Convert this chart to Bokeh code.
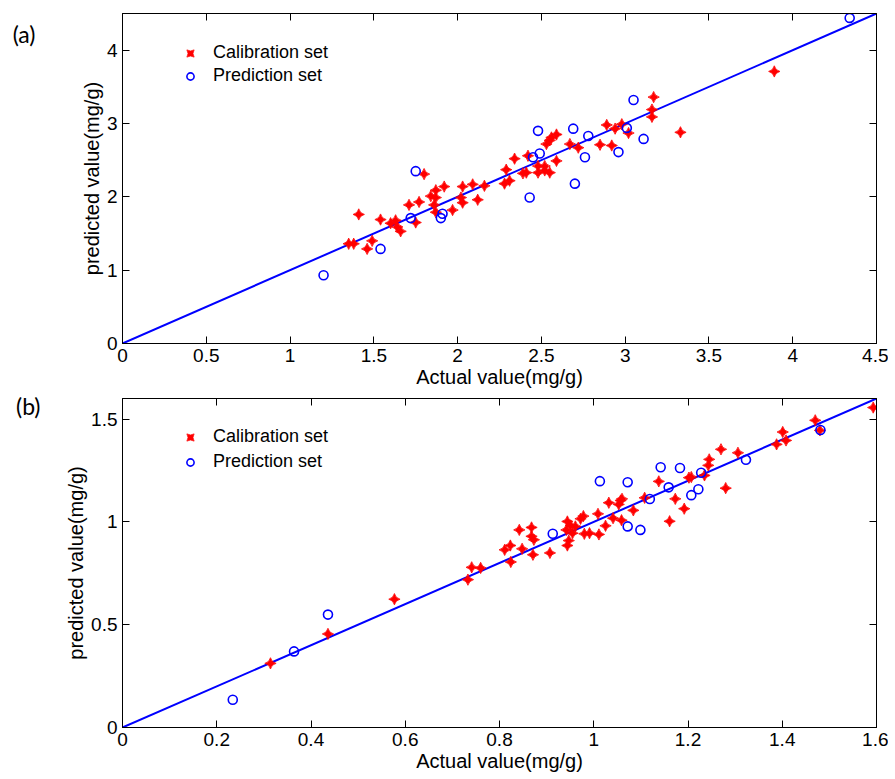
import numpy as np
from bokeh.plotting import figure
from bokeh.models import (Range1d, FixedTicker, NumeralTickFormatter, LinearAxis,
                          Legend, LegendItem)
from bokeh.layouts import column
from bokeh.embed import file_html
from bokeh.resources import INLINE

# ---------------- Data: panel (a) ----------------
CAL_A_X = [1.35, 1.38, 1.41, 1.46, 1.49, 1.54, 1.60, 1.63, 1.64, 1.66, 1.71, 1.75, 1.77, 1.80,
           1.84, 1.87, 1.87, 1.86, 1.87, 1.92, 1.97, 2.03, 2.02, 2.03, 2.09, 2.12, 2.16, 2.28,
           2.31, 2.29, 2.34, 2.39, 2.41, 2.42, 2.48, 2.48, 2.52, 2.52, 2.55, 2.59, 2.53, 2.55,
           2.56, 2.59, 2.67, 2.72, 2.85, 2.89, 2.92, 2.94, 2.98, 3.02, 3.16, 3.16, 3.17, 3.33, 3.89]
CAL_A_Y = [1.36, 1.36, 1.76, 1.29, 1.40, 1.69, 1.64, 1.68, 1.59, 1.53, 1.89, 1.65, 1.93, 2.31,
           2.01, 2.09, 1.99, 1.89, 1.79, 2.14, 1.82, 2.14, 1.99, 1.92, 2.17, 1.96, 2.15, 2.18,
           2.22, 2.37, 2.52, 2.32, 2.33, 2.56, 2.42, 2.33, 2.42, 2.36, 2.33, 2.49, 2.72, 2.77,
           2.81, 2.85, 2.72, 2.67, 2.71, 2.98, 2.70, 2.93, 2.99, 2.87, 3.09, 3.19, 3.36, 2.88, 3.71]
PRED_A_X = [1.20, 1.54, 1.72, 1.75, 1.90, 1.91, 2.43, 2.45, 2.49, 2.48, 2.69, 2.70, 2.76, 2.78,
            2.96, 3.01, 3.05, 3.11, 4.34]
PRED_A_Y = [0.93, 1.29, 1.71, 2.35, 1.71, 1.77, 1.99, 2.54, 2.59, 2.90, 2.93, 2.18, 2.54, 2.83,
            2.61, 2.94, 3.32, 2.79, 4.44]
LINE_A_X = [0, 4.5]
LINE_A_Y = [0, 4.5]
X_TICKS_A = [0, 0.5, 1, 1.5, 2, 2.5, 3, 3.5, 4, 4.5]
Y_TICKS_A = [0, 1, 2, 3, 4]

# ---------------- Data: panel (b) ----------------
CAL_B_X = [0.314, 0.436, 0.577, 0.733, 0.741, 0.760, 0.811, 0.823, 0.824, 0.842, 0.848, 0.868,
           0.868, 0.873, 0.871, 0.907, 0.944, 0.944, 0.947, 0.942, 0.951, 0.955, 0.961, 0.972,
           0.978, 0.980, 0.991, 1.009, 1.011, 1.025, 1.032, 1.041, 1.053, 1.057, 1.060, 1.059,
           1.084, 1.108, 1.138, 1.161, 1.173, 1.192, 1.202, 1.207, 1.235, 1.243, 1.245, 1.270,
           1.280, 1.306, 1.388, 1.401, 1.408, 1.470, 1.480, 1.593]
CAL_B_Y = [0.312, 0.455, 0.624, 0.719, 0.779, 0.776, 0.864, 0.885, 0.805, 0.961, 0.869, 0.973,
           0.930, 0.913, 0.840, 0.849, 1.002, 0.885, 0.909, 0.961, 0.982, 0.945, 0.978, 1.015,
           1.028, 0.942, 0.945, 1.039, 0.939, 0.981, 1.093, 1.018, 1.085, 1.104, 1.112, 1.008,
           1.056, 1.117, 1.197, 1.003, 1.112, 1.064, 1.215, 1.218, 1.226, 1.275, 1.304, 1.353,
           1.164, 1.336, 1.377, 1.437, 1.396, 1.494, 1.445, 1.556]
PRED_B_X = [0.234, 0.364, 0.436, 0.913, 1.013, 1.072, 1.072, 1.099, 1.119, 1.142, 1.159, 1.183,
            1.207, 1.222, 1.228, 1.323, 1.481]
PRED_B_Y = [0.135, 0.370, 0.549, 0.942, 1.198, 1.193, 0.978, 0.961, 1.111, 1.266, 1.168, 1.262,
            1.130, 1.159, 1.239, 1.302, 1.447]
LINE_B_X = [0, 1.6]
LINE_B_Y = [0, 1.6]
X_TICKS_B = [0, 0.2, 0.4, 0.6, 0.8, 1, 1.2, 1.4, 1.6]
Y_TICKS_B = [0, 0.5, 1, 1.5]

LEGEND_LABELS = ["Calibration set", "Prediction set"]
PANEL_TAGS = ["(a)", "(b)"]
X_TITLE = "Actual value(mg/g)"
Y_TITLE = "predicted value(mg/g)"

TICK_FONT = "Liberation Sans"
TICK_SIZE = "19px"
TITLE_SIZE = "20px"


def style_axis(ax, ticks, show_labels=True, title=None):
    ax.ticker = FixedTicker(ticks=ticks)
    ax.formatter = NumeralTickFormatter(format="0.[0]")
    ax.major_tick_in = 7
    ax.major_tick_out = 0
    ax.minor_tick_line_color = None
    ax.major_tick_line_color = "black"
    ax.major_tick_line_width = 1
    ax.axis_line_color = "black"
    ax.axis_line_width = 1
    ax.major_label_text_font = TICK_FONT
    if show_labels:
        ax.major_label_text_color = "black"
        ax.major_label_text_font_size = TICK_SIZE
        ax.major_label_standoff = 5
    else:
        # tick marks only (MATLAB-style box): labels are not drawn at all
        ax.major_label_text_color = None
        ax.major_label_text_font_size = "1px"
        ax.major_label_standoff = 0
    if title:
        ax.axis_label = title
        ax.axis_label_text_font = TICK_FONT
        ax.axis_label_text_font_size = TITLE_SIZE
        ax.axis_label_text_font_style = "normal"
        ax.axis_label_text_color = "black"
        ax.axis_label_standoff = 1


def make_panel(height, border_top, border_bottom, xr, yr, xt, yt, cx, cy, px, py, lx, ly,
               tag, tag_line_height, tag_standoff, leg_loc, leg_spacing):
    p = figure(width=888, height=height, output_backend="svg", toolbar_location=None,
               x_range=Range1d(*xr), y_range=Range1d(*yr),
               min_border_left=122, min_border_right=12, min_border_top=border_top,
               min_border_bottom=border_bottom,
               x_axis_location=None, y_axis_location=None)
    p.grid.visible = False
    p.outline_line_color = "black"
    p.outline_line_width = 1
    p.background_fill_color = "white"
    p.border_fill_color = "white"

    xb = LinearAxis()
    style_axis(xb, xt, True, X_TITLE)
    p.add_layout(xb, "below")
    yl = LinearAxis()
    style_axis(yl, yt, True, Y_TITLE)
    p.add_layout(yl, "left")
    xa = LinearAxis()
    style_axis(xa, xt, False)
    p.add_layout(xa, "above")
    yr_ax = LinearAxis()
    style_axis(yr_ax, yt, False)
    p.add_layout(yr_ax, "right")

    # panel tag "(a)"/"(b)": a horizontal label on an extra, invisible left axis;
    # two blank lines below it lift the first line toward the top of the frame
    tag_ax = LinearAxis(ticker=FixedTicker(ticks=[]))
    tag_ax.axis_line_color = None
    tag_ax.major_tick_line_color = None
    tag_ax.minor_tick_line_color = None
    tag_ax.major_label_text_color = None
    tag_ax.major_label_text_font_size = "1px"
    tag_ax.major_label_standoff = 0
    tag_ax.major_tick_in = 0
    tag_ax.major_tick_out = 0
    tag_ax.axis_label = tag + "\n \n "
    tag_ax.axis_label_orientation = "horizontal"
    tag_ax.axis_label_text_font = "Lato"
    tag_ax.axis_label_text_font_size = "23px"
    tag_ax.axis_label_text_font_style = "normal"
    tag_ax.axis_label_text_color = "black"
    tag_ax.axis_label_text_line_height = tag_line_height
    tag_ax.axis_label_text_align = "left"
    tag_ax.axis_label_standoff = tag_standoff
    p.add_layout(tag_ax, "left")

    p.line(lx, ly, line_color="#0000ff", line_width=2)
    r_cal = p.scatter(cx, cy, marker="square_pin", angle=np.pi / 4, size=8,
                      fill_color="#ff0000", line_color="#ff0000", line_width=0.8)
    r_pred = p.scatter(px, py, marker="circle", size=9, fill_color=None,
                       line_color="#0000ff", line_width=1.6)

    legend = Legend(items=[LegendItem(label=LEGEND_LABELS[0], renderers=[r_cal]),
                           LegendItem(label=LEGEND_LABELS[1], renderers=[r_pred])],
                    location=leg_loc, border_line_color=None, background_fill_alpha=0,
                    padding=0, margin=0, spacing=leg_spacing, glyph_width=20,
                    glyph_height=18, label_height=18, label_standoff=13,
                    label_text_font=TICK_FONT, label_text_font_size="18px",
                    label_text_color="black")
    p.add_layout(legend, "center")
    return p


pa = make_panel(393, 13, 50, (0, 4.5), (0, 4.5), X_TICKS_A, Y_TICKS_A,
                CAL_A_X, CAL_A_Y, PRED_A_X, PRED_A_Y, LINE_A_X, LINE_A_Y,
                PANEL_TAGS[0], 5.16, 42, (58, 257), 2)
pb = make_panel(385, 5, 51, (0, 1.6), (0, 1.6), X_TICKS_B, Y_TICKS_B,
                CAL_B_X, CAL_B_Y, PRED_B_X, PRED_B_Y, LINE_B_X, LINE_B_Y,
                PANEL_TAGS[1], 5.6, 22, (58, 255), 4)

layout = column(pa, pb, spacing=0)
open("out.html", "w").write(file_html(layout, INLINE))
